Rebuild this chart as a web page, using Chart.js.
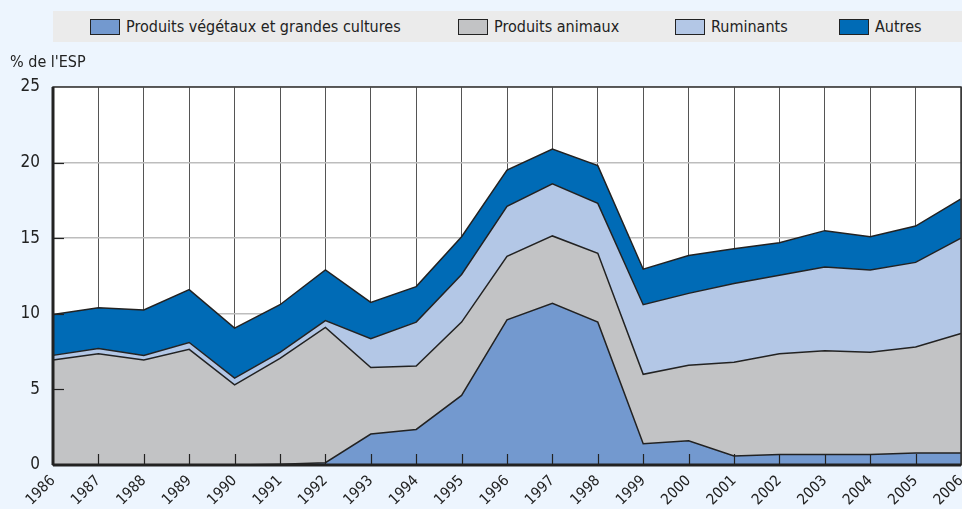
<!DOCTYPE html>
<html>
<head>
<meta charset="utf-8">
<script src="https://cdn.jsdelivr.net/npm/chart.js@4.4.0/dist/chart.umd.min.js"></script>
<style>
  body { margin:0; background:#edf5fe; font-family:"DejaVu Sans Condensed","DejaVu Sans",sans-serif; }
  #wrap { position:relative; width:962px; height:509px; overflow:hidden; }
  #legend { position:absolute; left:53px; top:11px; width:909px; height:31px; background:#ebebeb;
            font-size:16px; color:#222; }
  #legend span.item { position:absolute; top:0; height:31px; display:flex; align-items:center; white-space:nowrap; }
  #legend i { display:inline-block; width:28px; height:14px; border:1.5px solid #222; margin-right:6px; }
  #ytitle { position:absolute; left:10px; top:52px; font-size:16px; color:#222; white-space:nowrap; }
  canvas { position:absolute; left:0; top:0; }
</style>
</head>
<body>
<div id="wrap">
  <canvas id="myChart" width="962" height="509"></canvas>
  <div id="legend"></div>
  <div id="ytitle">% de l'ESP</div>
</div>
<script>
const years = ["1986","1987","1988","1989","1990","1991","1992","1993","1994","1995","1996","1997","1998","1999","2000","2001","2002","2003","2004","2005","2006"];

const vegetaux  = [0,0,0,0,0,0.05,0.15,2.05,2.35,4.6,9.6,10.7,9.45,1.4,1.6,0.6,0.7,0.7,0.7,0.8,0.8];
const animaux   = [6.95,7.35,6.95,7.65,5.3,7.0,8.95,4.4,4.2,4.85,4.2,4.45,4.55,4.6,5.0,6.2,6.65,6.85,6.75,7.0,7.9];
const ruminants = [0.3,0.35,0.3,0.45,0.45,0.4,0.45,1.9,2.9,3.15,3.3,3.45,3.3,4.6,4.75,5.2,5.2,5.55,5.45,5.6,6.3];
const autres    = [2.7,2.7,3.0,3.5,3.3,3.15,3.35,2.4,2.35,2.5,2.4,2.3,2.5,2.35,2.5,2.3,2.15,2.4,2.2,2.4,2.6];

const names  = ["Produits végétaux et grandes cultures","Produits animaux","Ruminants","Autres"];
const colors = ["#7399cf","#c2c3c5","#b3c7e6","#006bb6"];
const series = [vegetaux, animaux, ruminants, autres];

// where each legend entry starts inside the band
const legendX = [37, 405, 622, 786];

const FONT = "'DejaVu Sans Condensed','DejaVu Sans',sans-serif";

// legend in html
let lg = document.getElementById("legend");
names.forEach((n, i) => {
  lg.innerHTML += `<span class="item" style="left:${legendX[i]}px"><i style="background:${colors[i]}"></i>${n}</span>`;
});

const plotDeco = {
  id: "plotDeco",
  beforeDraw(chart) {
    const a = chart.chartArea, c = chart.ctx;
    c.save();
    c.fillStyle = "#ffffff";
    c.fillRect(a.left, a.top, a.right - a.left, a.bottom - a.top);
    c.restore();
  },
  afterDatasetsDraw(chart) {
    const a = chart.chartArea, c = chart.ctx;
    const xs = chart.scales.x, ys = chart.scales.y;
    c.save();
    c.strokeStyle = "#222";
    c.lineWidth = 1.2;
    // inward ticks
    for (let i = 1; i < years.length - 1; i++) {
      const px = Math.round(xs.getPixelForTick(i)) + 0.5;
      c.beginPath(); c.moveTo(px, a.bottom); c.lineTo(px, a.bottom - 11); c.stroke();
    }
    ys.ticks.forEach(t => {
      if (t.value > 0 && t.value < 25) {
        const py = Math.round(ys.getPixelForValue(t.value)) + 0.5;
        c.beginPath(); c.moveTo(a.left, py); c.lineTo(a.left + 11, py); c.stroke();
      }
    });
    // frame
    c.lineWidth = 1.5;
    c.strokeStyle = "#333";
    c.strokeRect(a.left, a.top, a.right - a.left, a.bottom - a.top);
    c.lineWidth = 3;
    c.strokeStyle = "#222";
    c.beginPath(); c.moveTo(a.left, a.bottom); c.lineTo(a.right, a.bottom); c.stroke();
    c.beginPath(); c.moveTo(a.left, a.top); c.lineTo(a.left, a.bottom); c.stroke();
    c.restore();
  }
};

new Chart(document.getElementById("myChart"), {
  type: "line",
  data: {
    labels: years,
    datasets: series.map((d, i) => ({
      label: names[i],
      data: d,
      backgroundColor: colors[i],
      borderColor: "#222",
      borderWidth: 1.5,
      pointRadius: 0,
      tension: 0,
      fill: i == 0 ? "origin" : "-1"
    }))
  },
  options: {
    responsive: false,
    animation: false,
    layout: { padding: { top: 87, right: 1, left: 0, bottom: 0 } },
    plugins: { legend: { display: false }, tooltip: { enabled: false } },
    scales: {
      x: {
        offset: false,
        grid: { color: "#555", lineWidth: 1, drawTicks: false },
        border: { display: false },
        ticks: { autoSkip: false, minRotation: 45, maxRotation: 45, padding: 7,
                 color: "#222", font: { family: FONT, size: 15 } },
        afterFit(s) { s.height = 44; s.paddingLeft = 0; s.paddingRight = 0; }
      },
      y: {
        stacked: true,
        min: 0, max: 25,
        grid: { color: "#bdbdbd", lineWidth: 1.5, drawTicks: false },
        border: { display: false },
        ticks: { stepSize: 5, padding: 13, color: "#222", font: { family: FONT, size: 17 } },
        afterFit(s) { s.width = 53; s.paddingTop = 0; s.paddingBottom = 0; }
      }
    }
  },
  plugins: [plotDeco]
});
</script>
</body>
</html>
